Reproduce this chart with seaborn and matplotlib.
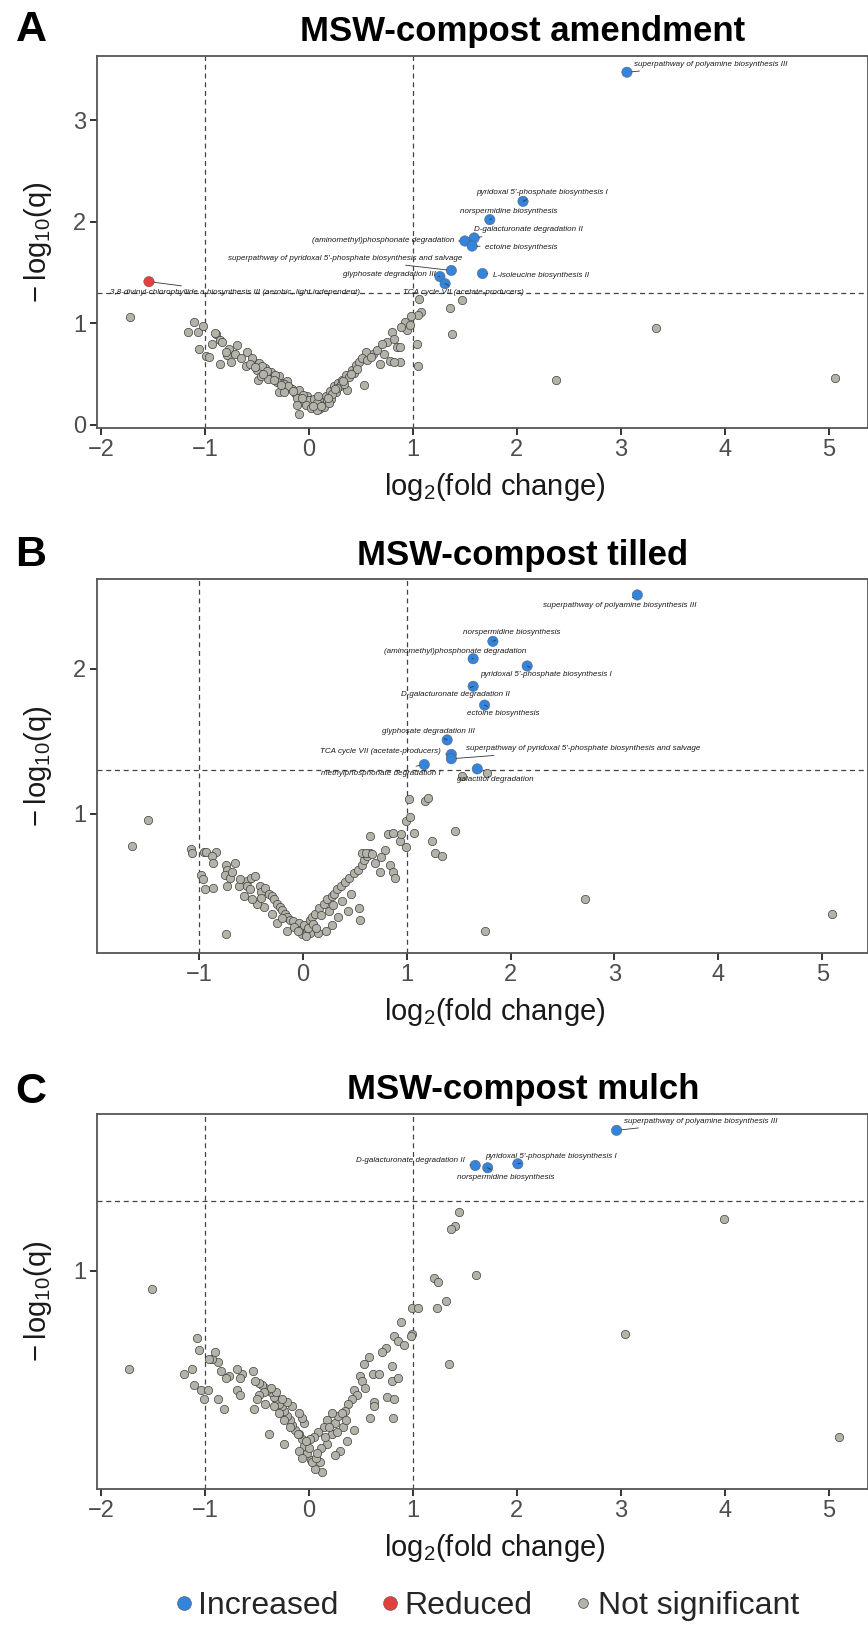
import matplotlib
matplotlib.use("Agg")
import matplotlib.pyplot as plt
import numpy as np
import pandas as pd
import seaborn as sns
from matplotlib.lines import Line2D

sns.set_theme(style="white")
plt.rcParams["font.family"] = ["Liberation Sans", "DejaVu Sans"]
plt.rcParams["mathtext.fontset"] = "custom"
plt.rcParams["mathtext.rm"] = "Liberation Sans"
plt.rcParams["mathtext.default"] = "regular"

# ---------------- DATA ----------------
# Panel A: MSW-compost amendment
a_ns_x = [-1.72, 3.34, 2.38, 5.06, 1.06, 1.47, 1.36, 1.38, 1.08, 1.05, 1.04, 1.05, 0.92, 0.94, 0.89,
          0.80, 0.75, 0.85, 0.88, 0.78, 0.88, 0.82, 0.68, 0.72, 0.62, 0.55, 0.53, 0.37,
          -1.11, -1.16, -1.07, -1.02, -1.06, -0.99, -0.96, -0.86, -0.89, -0.90, -0.86, -0.84, -0.77,
          -0.79, -0.75, -0.69, -0.71, -0.60, -0.61, -0.54, -0.50, -0.48, -0.49, -0.42, -0.37, -0.35,
          -0.29, -0.26, -0.21, -0.29, -0.18, -0.13, -0.10, -0.08, -0.10, -0.05, -0.02, 0.03, 0.06,
          0.10, 0.13, 0.16, 0.20, 0.24, 0.28, 0.32, 0.36, 0.41, 0.45, 0.48, 0.51, 0.43, 0.30, 0.21,
          0.11, 0.17, -0.55, -0.45, -0.40, -0.33, -0.24, -0.16, -0.06, 0.00, 0.05, 0.08, 0.14, 0.19,
          0.26, 0.34, 0.39, 0.46, 0.56, 0.60, -0.65, -0.57, -0.46, -0.39, -0.31, -0.20, -0.12, -0.03,
          0.02, 0.09, 0.22, 0.27, -0.93, -0.80, 0.65, 0.70, 0.82, 0.97, 0.98, -0.12, 0.08, -0.24,
          -0.52, -0.44, -0.34, -0.27, -0.15, -0.07, 0.04, 0.12, 0.18, 0.25, 0.33, 0.40]
a_ns_y = [1.06, 0.95, 0.44, 0.46, 1.24, 1.23, 1.15, 0.89, 1.11, 1.08, 0.80, 0.58, 1.01, 0.93, 0.96,
          0.91, 0.82, 0.77, 0.77, 0.63, 0.62, 0.62, 0.60, 0.70, 0.70, 0.72, 0.39, 0.34,
          1.01, 0.91, 0.91, 0.97, 0.75, 0.68, 0.67, 0.60, 0.89, 0.90, 0.84, 0.82, 0.75,
          0.69, 0.62, 0.79, 0.70, 0.72, 0.58, 0.63, 0.54, 0.61, 0.44, 0.56, 0.52, 0.46,
          0.48, 0.41, 0.43, 0.32, 0.36, 0.31, 0.34, 0.26, 0.11, 0.23, 0.28, 0.21, 0.18,
          0.16, 0.23, 0.28, 0.33, 0.38, 0.41, 0.44, 0.49, 0.54, 0.59, 0.62, 0.66, 0.51, 0.38, 0.26,
          0.20, 0.25, 0.66, 0.58, 0.53, 0.49, 0.40, 0.35, 0.29, 0.25, 0.26, 0.22, 0.18, 0.22,
          0.32, 0.40, 0.47, 0.55, 0.64, 0.67, 0.66, 0.60, 0.48, 0.45, 0.42, 0.38, 0.27, 0.20,
          0.17, 0.28, 0.30, 0.36, 0.80, 0.72, 0.74, 0.80, 0.85, 0.98, 1.07, 0.20, 0.15, 0.32,
          0.57, 0.50, 0.44, 0.39, 0.33, 0.27, 0.19, 0.19, 0.27, 0.35, 0.43, 0.50]
a_sig_names = ["superpathway of polyamine biosynthesis III",
               "pyridoxal 5'-phosphate biosynthesis I",
               "norspermidine biosynthesis",
               "D-galacturonate degradation II",
               "(aminomethyl)phosphonate degradation",
               "ectoine biosynthesis",
               "superpathway of pyridoxal 5'-phosphate biosynthesis and salvage",
               "L-isoleucine biosynthesis II",
               "glyphosate degradation III",
               "TCA cycle VII (acetate-producers)",
               "3,8-divinyl-chlorophyllide a biosynthesis III (aerobic, light independent)"]
a_sig_x = [3.06, 2.06, 1.74, 1.59, 1.50, 1.57, 1.37, 1.67, 1.26, 1.31, -1.54]
a_sig_y = [3.47, 2.20, 2.02, 1.84, 1.81, 1.76, 1.52, 1.49, 1.46, 1.39, 1.41]
a_sig_status = ["Increased"] * 10 + ["Reduced"]

# Panel B: MSW-compost tilled
b_ns_x = [-1.49, -1.64, -1.08, -1.07, -0.95, -0.93, -0.83, -0.87, -0.86, -0.98, -0.96, -0.94, -0.86,
          -0.74, -0.65, -0.73, -0.75, -0.70, -0.73, -0.61, -0.54, -0.50, -0.46, -0.54, -0.51, -0.41,
          -0.40, -0.36, -0.32, -0.30, -0.28, -0.25, -0.22, -0.20, -0.17, -0.15, -0.12, -0.09, -0.04,
          -0.01, -0.04, 0.07, 0.15, 0.01, 0.07, 0.09, 0.12, 0.16, 0.20, 0.23, 0.28, 0.30, 0.33, 0.37,
          0.41, 0.45, 0.49, 0.53, 0.57, 0.59, 0.62, 0.65, 0.57, 0.61, 0.67, 0.74, 0.84, 0.87, 0.89,
          0.79, 0.82, 0.87, 0.65, 0.94, 0.95, 0.99, 1.03, 1.02, 0.99, 1.07, 1.18, 1.21, 1.24, 1.27,
          1.34, 1.47, 1.53, 1.77, 1.75, 2.72, 5.09, -0.74, 0.54, 0.55, 0.44, 0.34, 0.28, 0.22, -0.15,
          -0.25, -0.30, -0.37, -0.44, -0.49, -0.57, 0.05, 0.10, -0.08, 0.18, 0.25, -0.20, 0.13, 0.03,
          -0.05, 0.38, 0.46, -0.40, 0.29, -0.60, -0.68, 0.70, 0.75]
b_ns_y = [0.96, 0.78, 0.76, 0.73, 0.74, 0.74, 0.74, 0.71, 0.66, 0.58, 0.55, 0.48, 0.49,
          0.65, 0.66, 0.61, 0.58, 0.56, 0.50, 0.50, 0.54, 0.56, 0.57, 0.50, 0.48, 0.50,
          0.46, 0.49, 0.45, 0.43, 0.41, 0.38, 0.36, 0.34, 0.31, 0.29, 0.27, 0.26, 0.25,
          0.17, 0.20, 0.18, 0.18, 0.23, 0.27, 0.29, 0.31, 0.35, 0.38, 0.41, 0.43, 0.45, 0.48, 0.50,
          0.53, 0.56, 0.59, 0.61, 0.65, 0.68, 0.71, 0.73, 0.73, 0.73, 0.72, 0.60, 0.65, 0.60, 0.56,
          0.75, 0.86, 0.87, 0.85, 0.81, 0.86, 0.95, 0.98, 1.10, 0.77, 0.87, 1.09, 1.11, 0.81, 0.73,
          0.71, 0.88, 1.26, 1.28, 0.19, 0.41, 0.31, 0.17, 0.35, 0.27, 0.33, 0.29, 0.23, 0.19, 0.19,
          0.25, 0.31, 0.36, 0.38, 0.41, 0.43, 0.21, 0.24, 0.22, 0.30, 0.33, 0.28, 0.21, 0.16,
          0.19, 0.40, 0.45, 0.42, 0.37, 0.55, 0.60, 0.66, 0.70]
b_sig_names = ["superpathway of polyamine biosynthesis III",
               "norspermidine biosynthesis",
               "(aminomethyl)phosphonate degradation",
               "pyridoxal 5'-phosphate biosynthesis I",
               "D-galacturonate degradation II",
               "ectoine biosynthesis",
               "glyphosate degradation III",
               "TCA cycle VII (acetate-producers)",
               "superpathway of pyridoxal 5'-phosphate biosynthesis and salvage",
               "methylphosphonate degradation I",
               "galactitol degradation"]
b_sig_x = [3.22, 1.83, 1.64, 2.16, 1.64, 1.75, 1.39, 1.43, 1.43, 1.17, 1.68]
b_sig_y = [2.51, 2.19, 2.07, 2.02, 1.88, 1.75, 1.51, 1.41, 1.38, 1.34, 1.31]
b_sig_status = ["Increased"] * 11

# Panel C: MSW-compost mulch
c_ns_x = [3.99, 1.44, 1.41, 1.37, 1.61, 3.04, 5.10, -1.51, -1.73, 1.20, 1.24, 1.32, 1.23, 0.99, 1.05,
          1.35, 0.89, 0.99, 0.98, 0.82, 0.86, 0.91, 0.74, 0.70, 0.58, 0.53, 0.80, 0.62, 0.67, 0.49,
          0.51, 0.54, 0.80, 0.86, 0.43, 0.46, 0.41, 0.38, 0.35, 0.75, 0.82, 0.63, 0.63, 0.81, 0.59,
          0.43, 0.37, 0.30, 0.25, 0.11, 0.13, 0.06, 0.02, -0.02, -0.05, -0.07, -0.10, -0.13, -0.16,
          -0.18, -0.21, -0.24, -0.26, -0.29, -0.32, -0.34, -0.37, -0.40, -0.42, -0.45, -0.48, -0.52,
          -0.54, -0.64, -0.69, -0.66, -0.77, -0.80, -0.85, -0.88, -0.93, -0.90, -0.96, -1.08, -1.06,
          -1.20, -1.13, -1.11, -1.04, -0.97, -1.01, -0.88, -0.82, -0.69, -0.66, -0.53, -0.38, -0.24,
          -0.10, -0.07, 0.03, 0.07, 0.17, 0.22, 0.25, 0.28, 0.32, 0.22, 0.17, 0.14, 0.09, 0.05, 0.01,
          -0.05, -0.07, -0.10, -0.16, -0.21, -0.26, -0.32, -0.37, -0.43, -0.48, -0.50, -0.42, -0.34,
          -0.29, -0.24, -0.18, -0.11, 0.33, 0.27, 0.36, 0.19, 0.12, 0.08, 0.00, -0.03, 0.15]
c_ns_y = [1.22, 1.25, 1.19, 1.18, 0.98, 0.73, 0.29, 0.92, 0.58, 0.97, 0.95, 0.87, 0.84, 0.84, 0.84,
          0.60, 0.78, 0.73, 0.72, 0.72, 0.70, 0.68, 0.67, 0.65, 0.63, 0.60, 0.59, 0.56, 0.56, 0.55,
          0.53, 0.50, 0.53, 0.54, 0.49, 0.47, 0.45, 0.43, 0.40, 0.46, 0.45, 0.44, 0.42, 0.37, 0.37,
          0.32, 0.27, 0.23, 0.21, 0.18, 0.14, 0.15, 0.19, 0.22, 0.25, 0.28, 0.30, 0.32, 0.34,
          0.36, 0.38, 0.40, 0.42, 0.43, 0.45, 0.46, 0.48, 0.49, 0.50, 0.51, 0.52, 0.53,
          0.57, 0.56, 0.58, 0.54, 0.55, 0.54, 0.57, 0.61, 0.62, 0.65, 0.62, 0.71, 0.66,
          0.56, 0.58, 0.51, 0.49, 0.49, 0.45, 0.45, 0.41, 0.49, 0.47, 0.41, 0.30, 0.26,
          0.23, 0.20, 0.18, 0.20, 0.26, 0.30, 0.35, 0.38, 0.39, 0.39, 0.36, 0.33, 0.31, 0.29, 0.28,
          0.35, 0.37, 0.39, 0.42, 0.44, 0.45, 0.48, 0.50, 0.48, 0.47, 0.45, 0.43, 0.42,
          0.39, 0.36, 0.33, 0.30, 0.33, 0.31, 0.36, 0.33, 0.24, 0.22, 0.24, 0.27, 0.29]
c_sig_names = ["superpathway of polyamine biosynthesis III",
               "pyridoxal 5'-phosphate biosynthesis I",
               "D-galacturonate degradation II",
               "norspermidine biosynthesis"]
c_sig_x = [2.96, 2.01, 1.60, 1.72]
c_sig_y = [1.60, 1.457, 1.45, 1.44]
c_sig_status = ["Increased"] * 4

titles = ["MSW-compost amendment", "MSW-compost tilled", "MSW-compost mulch"]
panel_letters = ["A", "B", "C"]
legend_labels = ["Increased", "Reduced", "Not significant"]
a_xticks = [-2, -1, 0, 1, 2, 3, 4, 5]
b_xticks = [-1, 0, 1, 2, 3, 4, 5]
c_xticks = [-2, -1, 0, 1, 2, 3, 4, 5]

# ---------------- LAYOUT / STYLE ----------------
W, H = 868, 1627
BLUE, RED, GREY = "#3584dc", "#e2403f", "#b3b3aa"
# label placement (text anchor positions in data units, ggrepel-like)
a_lab = [(3.13, 3.55, "left"), (2.24, 2.29, "center"), (1.92, 2.10, "center"), (2.11, 1.92, "center"),
         (0.71, 1.81, "center"), (2.04, 1.75, "center"), (0.35, 1.64, "center"), (2.23, 1.47, "center"),
         (0.77, 1.48, "center"), (1.49, 1.30, "center"), (-0.71, 1.30, "center")]
b_lab = [(3.05, 2.44, "center"), (2.01, 2.25, "center"), (1.47, 2.12, "center"), (2.34, 1.96, "center"),
         (1.47, 1.82, "center"), (1.93, 1.69, "center"), (1.21, 1.57, "center"), (0.75, 1.43, "center"),
         (2.70, 1.45, "center"), (0.75, 1.28, "center"), (1.85, 1.24, "center")]
c_lab = [(3.03, 1.64, "left"), (2.33, 1.49, "center"), (0.98, 1.47, "center"), (1.89, 1.40, "center")]

panels = [
    dict(top=56, bottom=428, xlim=(-2.04, 5.38), ylim=(-0.03, 3.63), yticks=[0, 1, 2, 3],
         xticks=a_xticks, ns=(a_ns_x, a_ns_y), sig=(a_sig_names, a_sig_x, a_sig_y, a_sig_status),
         lab=a_lab, title_y=31, letter_y=30),
    dict(top=579, bottom=953, xlim=(-1.98, 5.44), ylim=(0.04, 2.62), yticks=[1, 2],
         xticks=b_xticks, ns=(b_ns_x, b_ns_y), sig=(b_sig_names, b_sig_x, b_sig_y, b_sig_status),
         lab=b_lab, title_y=556, letter_y=555),
    dict(top=1114, bottom=1489, xlim=(-2.04, 5.38), ylim=(0.066, 1.67), yticks=[1],
         xticks=c_xticks, ns=(c_ns_x, c_ns_y), sig=(c_sig_names, c_sig_x, c_sig_y, c_sig_status),
         lab=c_lab, title_y=1090, letter_y=1092),
]

fig = plt.figure(figsize=(W / 100, H / 100), dpi=100)
fig.patch.set_facecolor("white")
left = 97
for i, p in enumerate(panels):
    ax = fig.add_axes([left / W, 1 - p["bottom"] / H, (W - left) / W, (p["bottom"] - p["top"]) / H])
    ax.set_facecolor("white")
    for v in (-1, 1):
        ax.axvline(v, color="#444444", lw=0.9, ls=(0, (4, 3)), zorder=1)
    ax.axhline(1.3, color="#444444", lw=0.9, ls=(0, (4, 3)), zorder=1)

    df_ns = pd.DataFrame({"x": p["ns"][0], "y": p["ns"][1]})
    sns.scatterplot(data=df_ns, x="x", y="y", color=GREY, s=36, edgecolor="#3f3f3f",
                    linewidth=0.5, ax=ax, legend=False, zorder=2)
    names, sx, sy, st = p["sig"]
    df_sig = pd.DataFrame({"x": sx, "y": sy, "status": st, "name": names})
    sns.scatterplot(data=df_sig, x="x", y="y", hue="status",
                    palette={"Increased": BLUE, "Reduced": RED}, s=56, edgecolor="#555555",
                    linewidth=0.3, ax=ax, legend=False, zorder=3)
    for (nm, x0, y0), (tx, ty, ha) in zip(zip(names, sx, sy), p["lab"]):
        ax.annotate(nm, xy=(x0, y0), xytext=(tx, ty), ha=ha, va="center", fontsize=5.8,
                    style="italic", color="#1a1a1a", zorder=4,
                    arrowprops=dict(arrowstyle="-", color="#333333", lw=0.6, shrinkA=1, shrinkB=3.5))

    ax.set_xlim(*p["xlim"])
    ax.set_ylim(*p["ylim"])
    ax.set_xticks(p["xticks"])
    ax.set_yticks(p["yticks"])
    ax.tick_params(axis="both", labelsize=17, labelcolor="#4d4d4d", length=5, width=1.4,
                   color="#333333", pad=3, bottom=True, left=True)
    for s in ax.spines.values():
        s.set_color("#555555")
        s.set_linewidth(1.3)
    ax.set_xlabel("log$_{2}$(fold change)", fontsize=21, color="#1a1a1a")
    ax.set_ylabel("\u2212\u2009log$_{10}$(q)", fontsize=21, color="#1a1a1a")
    hpx = p["bottom"] - p["top"]
    wpx = W - left
    ax.xaxis.set_label_coords((495 - left) / wpx, -(471 - 428) / hpx)
    ax.yaxis.set_label_coords((54 - left) / wpx, 0.5)

    fig.text(523 / W, 1 - p["title_y"] / H, titles[i], ha="center", va="center",
             fontsize=25, weight="bold", color="black")
    fig.text(31 / W, 1 - p["letter_y"] / H, panel_letters[i], ha="center", va="center",
             fontsize=31, weight="bold", color="black")

handles = [Line2D([], [], marker="o", ls="", markerfacecolor=BLUE, markeredgecolor="#555555",
                  markeredgewidth=0.4, markersize=10),
           Line2D([], [], marker="o", ls="", markerfacecolor=RED, markeredgecolor="#555555",
                  markeredgewidth=0.4, markersize=10),
           Line2D([], [], marker="o", ls="", markerfacecolor=GREY, markeredgecolor="#3f3f3f",
                  markeredgewidth=0.5, markersize=7)]
fig.legend(handles, legend_labels, loc="center", bbox_to_anchor=(485 / W, 1 - 1606 / H), ncol=3,
           frameon=False, fontsize=23, handletextpad=0.05, columnspacing=1.2, handlelength=0.8,
           borderaxespad=0, borderpad=0)

fig.savefig("out.png", dpi=100, facecolor="white")
